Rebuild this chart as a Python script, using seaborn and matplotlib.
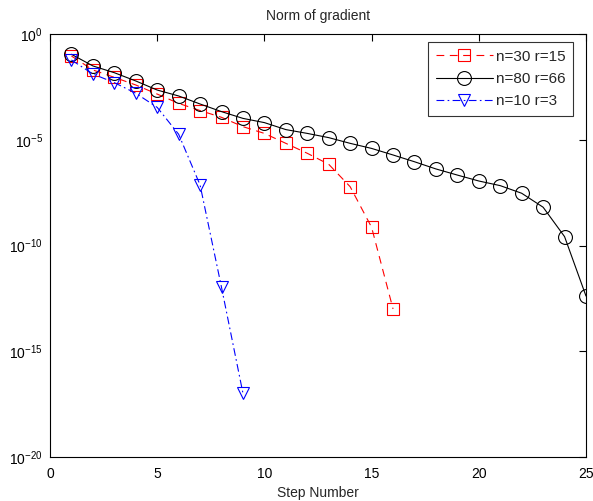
import numpy as np
import pandas as pd
import seaborn as sns
from matplotlib import pyplot as plt

# exponents of the gradient norm (log10)
steps_30 = list(range(1, 17))
exp_30 = [-1.04, -1.70, -2.05, -2.41, -2.84, -3.28, -3.62, -3.94, -4.38, -4.70,
          -5.17, -5.64, -6.16, -7.22, -9.14, -13.0]
steps_80 = list(range(1, 26))
exp_80 = [-0.96, -1.51, -1.83, -2.22, -2.65, -2.93, -3.31, -3.67, -3.99, -4.19,
          -4.52, -4.70, -4.90, -5.17, -5.41, -5.72, -6.04, -6.38, -6.67, -6.95,
          -7.17, -7.53, -8.19, -9.58, -12.39]
steps_10 = list(range(1, 10))
exp_10 = [-1.23, -1.89, -2.30, -2.80, -3.47, -4.74, -7.14, -11.98, -16.99]

labels = ["n=30 r=15", "n=80 r=66", "n=10 r=3"]
x_ticks = [0, 5, 10, 15, 20, 25]
y_tick_exps = [0, -5, -10, -15, -20]

sns.set_style("white")
plt.rcParams["font.family"] = ["Liberation Sans", "DejaVu Sans"]
plt.rcParams["mathtext.fontset"] = "custom"
plt.rcParams["mathtext.rm"] = "Liberation Sans"
plt.rcParams["mathtext.it"] = "Liberation Sans"

fig = plt.figure(figsize=(5.93, 5.01), dpi=100)
ax = fig.add_axes([50 / 593, 1 - 457 / 501, 536 / 593, 423 / 501])

series = [
    (steps_30, exp_30, "red", (7, 5), "s", 8),
    (steps_80, exp_80, "black", None, "o", 10),
    (steps_10, exp_10, "blue", (7, 3, 1.5, 3), "v", 9),
]
for (xs, es, color, dash, mk, ms), lab in zip(series, labels):
    df = pd.DataFrame({"step": xs, "norm": 10.0 ** np.array(es)})
    sns.lineplot(
        data=df, x="step", y="norm", ax=ax, color=color,
        linewidth=0.8, marker=mk, markersize=ms, markerfacecolor="none",
        markeredgecolor=color, markeredgewidth=0.8, label=lab,
    )
    if dash is not None:
        ax.lines[-1].set_dashes(dash)

ax.set_yscale("log")
ax.set_xlim(0, 25)
ax.set_ylim(1e-20, 1)
ax.set_xticks(x_ticks)
ax.set_yticks([10.0 ** e for e in y_tick_exps])
ax.set_yticklabels([f"$10^{{{e}}}$" for e in y_tick_exps])
ax.yaxis.set_minor_locator(plt.NullLocator())
ax.tick_params(direction="in", length=5, width=0.8, top=True, right=True,
               labelsize=10, colors="black", pad=5)
ax.tick_params(axis="x", pad=7)
for sp in ax.spines.values():
    sp.set_visible(True)
    sp.set_color("black")
    sp.set_linewidth(0.8)

ax.set_title("Norm of gradient", fontsize=10, pad=10)
ax.set_xlabel("Step Number", fontsize=10, labelpad=4)
ax.set_ylabel("")

leg = ax.legend(loc="upper right", bbox_to_anchor=(0.9757, 0.981),
                fontsize=11, frameon=True, fancybox=False,
                edgecolor="black", borderaxespad=0, handlelength=3.7,
                labelspacing=0.55, borderpad=0.5, handletextpad=0.2)
leg.get_frame().set_linewidth(0.8)

plt.savefig("out.png", dpi=100)
plt.close()
